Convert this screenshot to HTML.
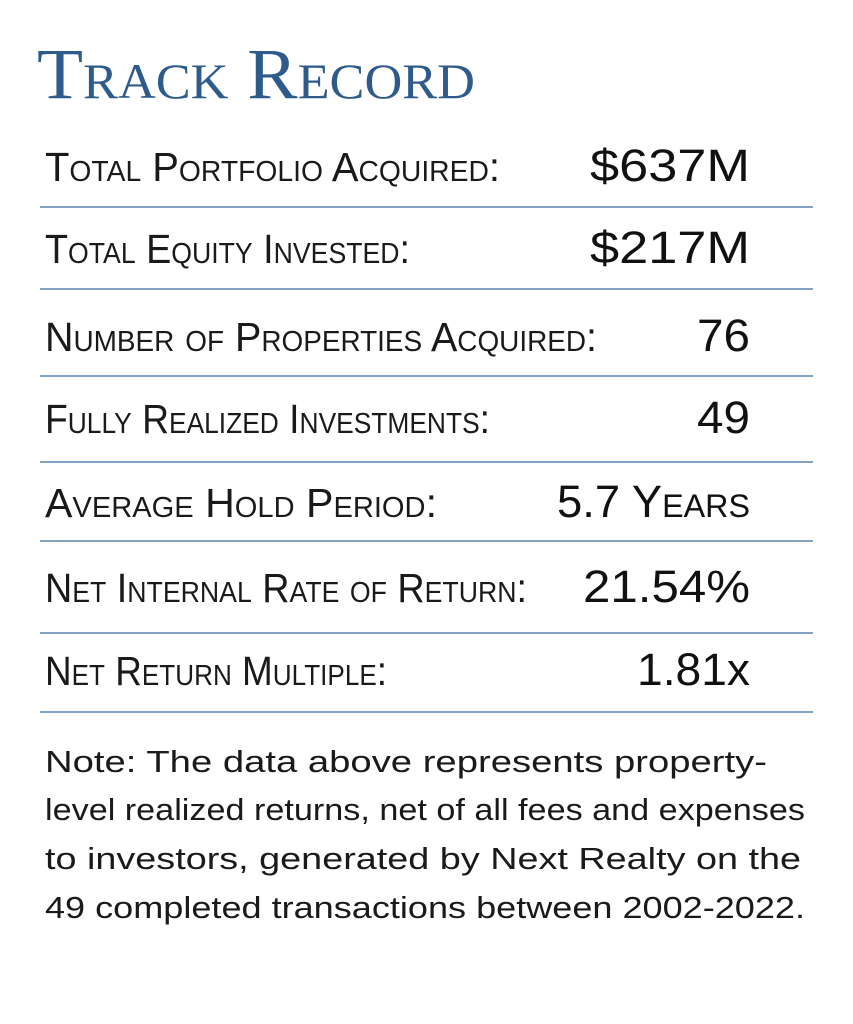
<!DOCTYPE html>
<html><head><meta charset="utf-8"><style>
html,body{margin:0;padding:0;background:#fff;}
svg{display:block;}
.lab{font-family:"Liberation Sans",sans-serif;font-size:41px;font-variant:small-caps;fill:#1a1a1a;}
.val{font-family:"Liberation Sans",sans-serif;font-size:45px;fill:#111;}
.note{font-family:"Liberation Sans",sans-serif;font-size:31px;fill:#1a1a1a;}
</style></head><body>
<svg width="853" height="1024" viewBox="0 0 853 1024" xmlns="http://www.w3.org/2000/svg">
<text x="37" y="98" font-family="Liberation Serif,serif" font-size="72" font-variant="small-caps" fill="#2e5b8a" textLength="438" lengthAdjust="spacingAndGlyphs">Track Record</text>
<g stroke="#5b84b1" stroke-width="1.5">
<line x1="40" y1="207" x2="813" y2="207"/>
<line x1="40" y1="289" x2="813" y2="289"/>
<line x1="40" y1="376" x2="813" y2="376"/>
<line x1="40" y1="462" x2="813" y2="462"/>
<line x1="40" y1="541" x2="813" y2="541"/>
<line x1="40" y1="633" x2="813" y2="633"/>
<line x1="40" y1="712" x2="813" y2="712"/>
</g>
<text class="lab" x="45" y="181" textLength="455" lengthAdjust="spacingAndGlyphs">Total Portfolio Acquired:</text>
<text class="lab" x="45" y="263" textLength="365" lengthAdjust="spacingAndGlyphs">Total Equity Invested:</text>
<text class="lab" x="45" y="351" textLength="552" lengthAdjust="spacingAndGlyphs">Number of Properties Acquired:</text>
<text class="lab" x="45" y="433" textLength="445" lengthAdjust="spacingAndGlyphs">Fully Realized Investments:</text>
<text class="lab" x="45" y="517" textLength="392" lengthAdjust="spacingAndGlyphs">Average Hold Period:</text>
<text class="lab" x="45" y="602" textLength="482" lengthAdjust="spacingAndGlyphs">Net Internal Rate of Return:</text>
<text class="lab" x="45" y="685" textLength="342" lengthAdjust="spacingAndGlyphs">Net Return Multiple:</text>
<text class="val" x="590" y="181" textLength="160" lengthAdjust="spacingAndGlyphs">$637M</text>
<text class="val" x="590" y="263" textLength="160" lengthAdjust="spacingAndGlyphs">$217M</text>
<text class="val" x="697" y="351" textLength="53" lengthAdjust="spacingAndGlyphs">76</text>
<text class="val" x="697" y="433" textLength="53" lengthAdjust="spacingAndGlyphs">49</text>
<text class="val" x="557" y="517" font-variant="small-caps" textLength="193" lengthAdjust="spacingAndGlyphs">5.7 Years</text>
<text class="val" x="583" y="602" textLength="167" lengthAdjust="spacingAndGlyphs">21.54%</text>
<text class="val" x="637" y="685" textLength="113" lengthAdjust="spacingAndGlyphs">1.81x</text>
<text class="note" x="45" y="772" textLength="722" lengthAdjust="spacingAndGlyphs">Note: The data above represents property-</text>
<text class="note" x="45" y="820" textLength="760" lengthAdjust="spacingAndGlyphs">level realized returns, net of all fees and expenses</text>
<text class="note" x="45" y="869" textLength="756" lengthAdjust="spacingAndGlyphs">to investors, generated by Next Realty on the</text>
<text class="note" x="45" y="918" textLength="760" lengthAdjust="spacingAndGlyphs">49 completed transactions between 2002-2022.</text>
</svg>
</body></html>
